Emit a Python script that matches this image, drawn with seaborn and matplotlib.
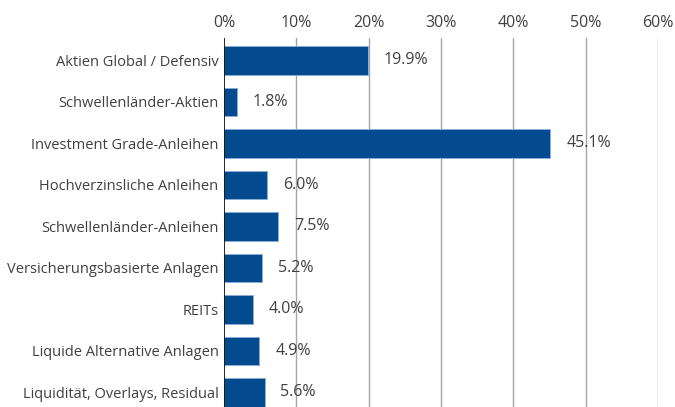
import matplotlib
matplotlib.use("Agg")
import matplotlib.pyplot as plt
import seaborn as sns
import pandas as pd
from matplotlib.ticker import FuncFormatter

categories = [
    "Aktien Global / Defensiv",
    "Schwellenländer-Aktien",
    "Investment Grade-Anleihen",
    "Hochverzinsliche Anleihen",
    "Schwellenländer-Anleihen",
    "Versicherungsbasierte Anlagen",
    "REITs",
    "Liquide Alternative Anlagen",
    "Liquidität, Overlays, Residual",
]
values = [19.9, 1.8, 45.1, 6.0, 7.5, 5.2, 4.0, 4.9, 5.6]
x_ticks = [0, 10, 20, 30, 40, 50, 60]

df = pd.DataFrame({"cat": categories, "val": values})

sns.set_theme(style="white")
plt.rcParams["font.family"] = ["Open Sans", "DejaVu Sans"]

fig = plt.figure(figsize=(6.75, 4.07), dpi=100)
y_top, y_bot = -0.54, 8.8
px_per_unit = 41.5
ax_h = (y_bot - y_top) * px_per_unit
ax = fig.add_axes([224 / 675, (407 - 38 - ax_h) / 407, (658 - 224) / 675, ax_h / 407])

sns.barplot(data=df, x="val", y="cat", orient="h", color="#034a8e",
            saturation=1, width=0.68, ax=ax, zorder=3,
            edgecolor="#8aaed3", linewidth=0.7)

ax.set_xlim(0, 60)
ax.set_ylim(y_bot, y_top)
ax.set_xticks(x_ticks)
ax.xaxis.set_major_formatter(FuncFormatter(lambda v, p: f"{v:.0f}%"))
ax.xaxis.tick_top()
ax.tick_params(axis="x", length=0, pad=5, labelsize=11.5, labelcolor="#404040")
ax.tick_params(axis="y", length=0, pad=4, labelsize=10.5, labelcolor="#404040")
ax.set_xlabel("")
ax.set_ylabel("")

for xv in x_ticks[1:]:
    ax.axvline(xv, color="#a6a6a6", lw=1.0, zorder=1)
ax.axvline(0, color="#000000", lw=1.2, zorder=4)

for s in ax.spines.values():
    s.set_visible(False)

for i, v in enumerate(values):
    ax.annotate(f"{v:.1f}%", xy=(v, i), xytext=(11.5, 0), textcoords="offset points",
                va="center", ha="left", fontsize=11.5, color="#404040", zorder=5)

fig.savefig("out.png", dpi=100)
